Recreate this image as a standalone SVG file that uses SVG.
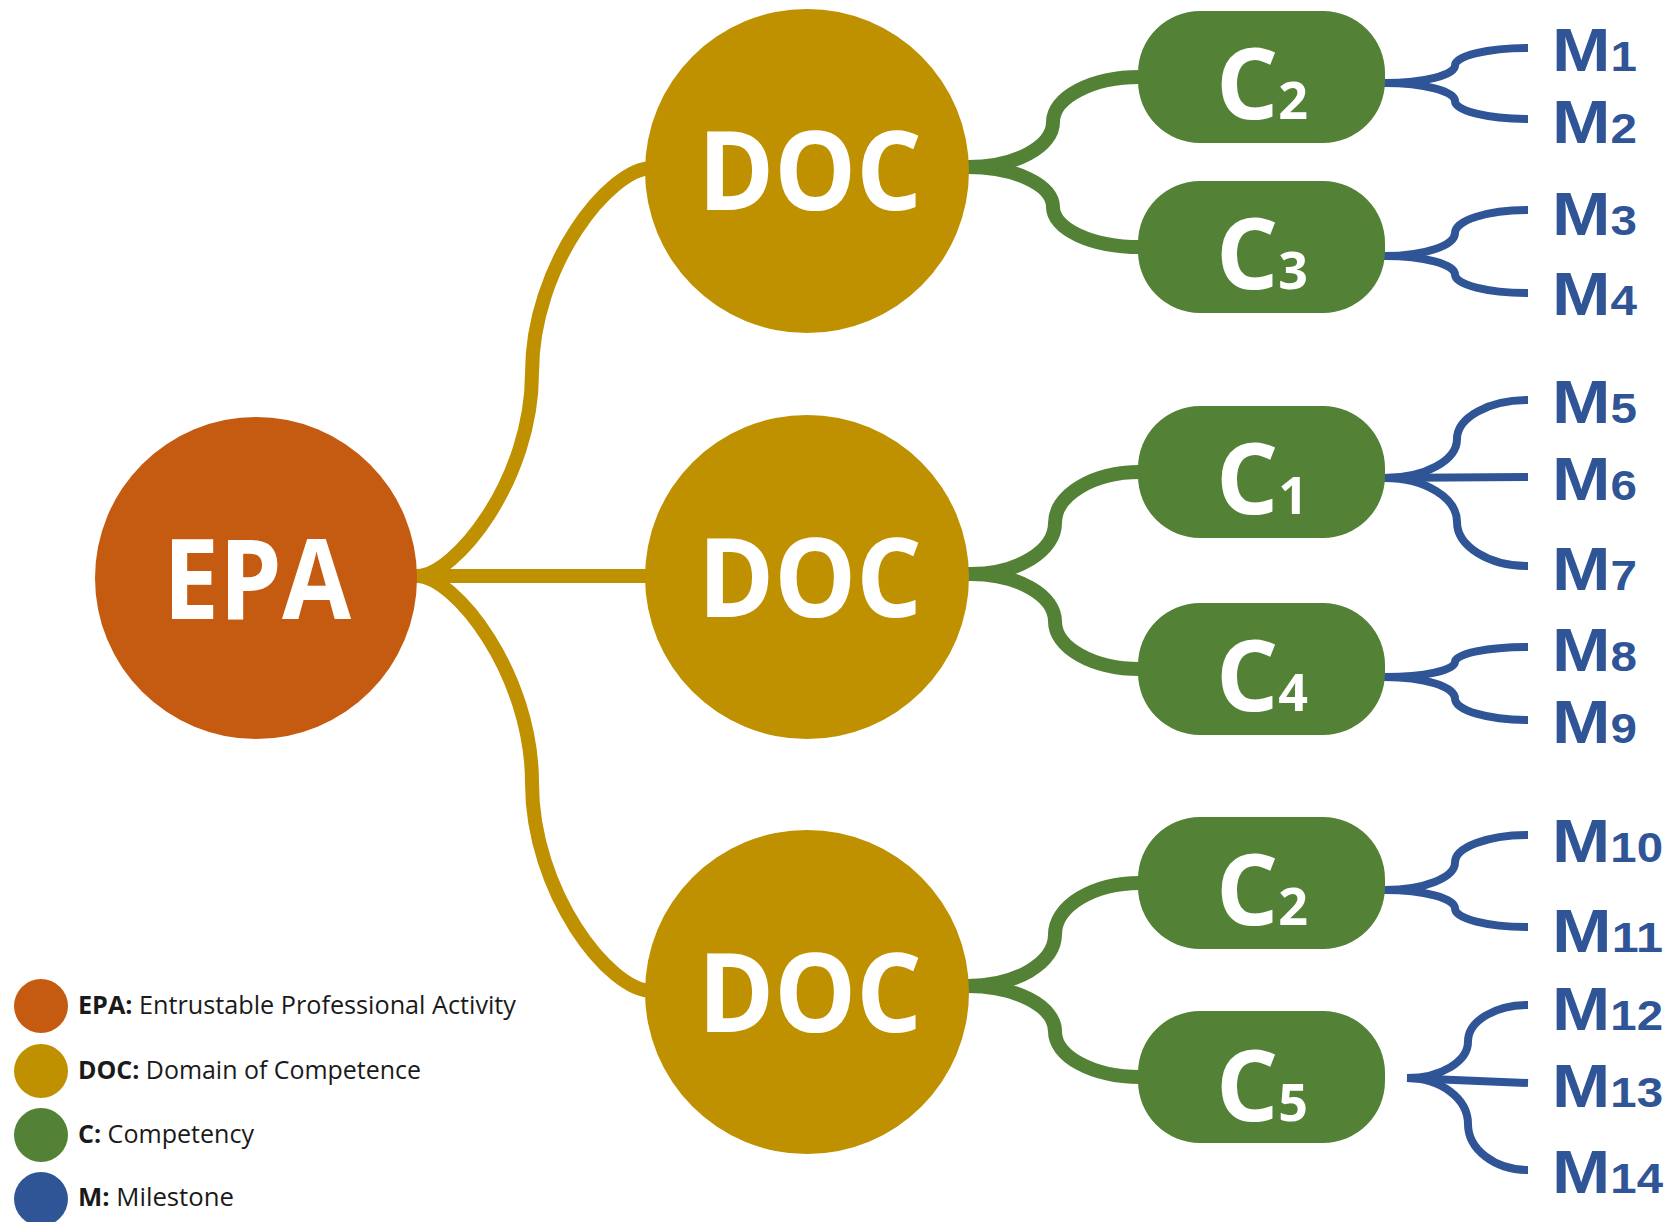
<svg xmlns="http://www.w3.org/2000/svg" width="1680" height="1222" viewBox="0 0 1680 1222">
<style>
  .gold{fill:none;stroke:#BF9000;stroke-width:14}
  .green{fill:none;stroke:#538135;stroke-width:14}
  .blue{fill:none;stroke:#2F5597;stroke-width:8}
  .epa{fill:#C55A11}
  .doc{fill:#BF9000}
  .comp{fill:#538135}
  .ms{fill:#2F5597}
  .big{font-family:'Open Sans','Liberation Sans',sans-serif;font-weight:700;fill:#FFFFFF;text-anchor:middle}
  .clab{font-family:'Open Sans','Liberation Sans',sans-serif;font-weight:700;fill:#FFFFFF;text-anchor:middle;font-size:98px}
  .clab .sub{font-size:52px}
  .mlab{font-family:'Liberation Sans',Arial,sans-serif;font-weight:700;fill:#2F5597;font-size:62px}
  .mlab .sub{font-size:42px}
  .leg{font-family:'Open Sans','Liberation Sans',sans-serif;font-size:25px;fill:#1a1a1a}
  .leg .b{font-weight:700}
</style>
<rect x="0" y="0" width="1680" height="1222" fill="#FFFFFF"/>
<g id="connectors">
  <path class="gold" d="M 405 576 L 417 576 C 455 576, 532 480, 532 373 C 532 266, 609 168, 652 168"/>
  <path class="gold" d="M 405 576 L 652 576"/>
  <path class="gold" d="M 405 576 L 417 576 C 455 576, 532 674, 532 783 C 532 892, 609 991, 652 991"/>

  <path class="green" d="M 955 167 L 968 167 A 85 45 0 0 0 1053 122 A 87 45 0 0 1 1140 77 L 1150 77"/>
  <path class="green" d="M 955 167 L 968 167 A 85 40 0 0 1 1053 207 A 87 40 0 0 0 1140 247 L 1150 247"/>
  <path class="green" d="M 955 574 L 971 574 A 84 51 0 0 0 1055 523 A 85 51 0 0 1 1140 472 L 1150 472"/>
  <path class="green" d="M 955 574 L 971 574 A 84 47.5 0 0 1 1055 621.5 A 85 47.5 0 0 0 1140 669 L 1150 669"/>
  <path class="green" d="M 955 986 L 968 986 A 87 51.5 0 0 0 1055 934.5 A 85 51.5 0 0 1 1140 883 L 1150 883"/>
  <path class="green" d="M 955 986 L 968 986 A 87 45.5 0 0 1 1055 1031.5 A 85 45.5 0 0 0 1140 1077 L 1150 1077"/>

  <path class="blue" d="M 1375 83 L 1385 83 A 70 17.5 0 0 0 1455 65.5 A 73 17.5 0 0 1 1528 48"/>
  <path class="blue" d="M 1375 83 L 1385 83 A 70 18 0 0 1 1455 101 A 73 18 0 0 0 1528 119"/>
  <path class="blue" d="M 1375 256 L 1385 256 A 70 23 0 0 0 1455 233 A 73 23 0 0 1 1528 210"/>
  <path class="blue" d="M 1375 256 L 1385 256 A 70 18.5 0 0 1 1455 274.5 A 73 18.5 0 0 0 1528 293"/>
  <path class="blue" d="M 1375 478 L 1385 478 A 72 39 0 0 0 1457 439 A 71 39 0 0 1 1528 400"/>
  <path class="blue" d="M 1375 478 L 1528 477"/>
  <path class="blue" d="M 1375 478 L 1385 478 A 72 44 0 0 1 1457 522 A 71 44 0 0 0 1528 566"/>
  <path class="blue" d="M 1375 677 L 1385 677 A 70 15 0 0 0 1455 662 A 73 15 0 0 1 1528 647"/>
  <path class="blue" d="M 1375 677 L 1385 677 A 70 21.5 0 0 1 1455 698.5 A 73 21.5 0 0 0 1528 720"/>
  <path class="blue" d="M 1375 890 L 1385 890 A 70 27.5 0 0 0 1455 862.5 A 73 27.5 0 0 1 1528 835"/>
  <path class="blue" d="M 1375 890 L 1385 890 A 70 18.5 0 0 1 1455 908.5 A 73 18.5 0 0 0 1528 927"/>
  <path class="blue" d="M 1407 1078 A 61 36.5 0 0 0 1468 1041.5 A 60 36.5 0 0 1 1528 1005"/>
  <path class="blue" d="M 1407 1078 L 1528 1083"/>
  <path class="blue" d="M 1407 1078 A 61 46 0 0 1 1468 1124 A 60 46 0 0 0 1528 1170"/>
</g>

<g id="epa">
  <circle class="epa" cx="256" cy="578" r="161"/>
  <text class="big" x="257" y="619" font-size="112" textLength="188" lengthAdjust="spacingAndGlyphs">EPA</text>
</g>
<g id="doc1">
  <circle class="doc" cx="807" cy="171" r="162"/>
  <text class="big" x="810" y="210" font-size="110" textLength="224" lengthAdjust="spacingAndGlyphs">DOC</text>
</g>
<g id="doc2">
  <circle class="doc" cx="807" cy="577" r="162"/>
  <text class="big" x="810" y="617" font-size="110" textLength="224" lengthAdjust="spacingAndGlyphs">DOC</text>
</g>
<g id="doc3">
  <circle class="doc" cx="807" cy="992" r="162"/>
  <text class="big" x="810" y="1032" font-size="110" textLength="224" lengthAdjust="spacingAndGlyphs">DOC</text>
</g>

<g id="c2a">
  <rect class="comp" x="1138" y="11" width="247" height="132" rx="62" ry="62"/>
  <text class="clab" x="1262" y="119">C<tspan class="sub">2</tspan></text>
</g>
<g id="c3">
  <rect class="comp" x="1138" y="181" width="247" height="132" rx="62" ry="62"/>
  <text class="clab" x="1262" y="289">C<tspan class="sub">3</tspan></text>
</g>
<g id="c1">
  <rect class="comp" x="1138" y="406" width="247" height="132" rx="62" ry="62"/>
  <text class="clab" x="1262" y="514">C<tspan class="sub">1</tspan></text>
</g>
<g id="c4">
  <rect class="comp" x="1138" y="603" width="247" height="132" rx="62" ry="62"/>
  <text class="clab" x="1262" y="711">C<tspan class="sub">4</tspan></text>
</g>
<g id="c2b">
  <rect class="comp" x="1138" y="817" width="247" height="132" rx="62" ry="62"/>
  <text class="clab" x="1262" y="925">C<tspan class="sub">2</tspan></text>
</g>
<g id="c5">
  <rect class="comp" x="1138" y="1011" width="247" height="132" rx="62" ry="62"/>
  <text class="clab" x="1262" y="1121">C<tspan class="sub">5</tspan></text>
</g>

<g id="m1"><text class="mlab" x="1552" y="71" textLength="85" lengthAdjust="spacingAndGlyphs">M<tspan class="sub">1</tspan></text></g>
<g id="m2"><text class="mlab" x="1552" y="143" textLength="85" lengthAdjust="spacingAndGlyphs">M<tspan class="sub">2</tspan></text></g>
<g id="m3"><text class="mlab" x="1552" y="235" textLength="85" lengthAdjust="spacingAndGlyphs">M<tspan class="sub">3</tspan></text></g>
<g id="m4"><text class="mlab" x="1552" y="315" textLength="85" lengthAdjust="spacingAndGlyphs">M<tspan class="sub">4</tspan></text></g>
<g id="m5"><text class="mlab" x="1552" y="423" textLength="85" lengthAdjust="spacingAndGlyphs">M<tspan class="sub">5</tspan></text></g>
<g id="m6"><text class="mlab" x="1552" y="500" textLength="85" lengthAdjust="spacingAndGlyphs">M<tspan class="sub">6</tspan></text></g>
<g id="m7"><text class="mlab" x="1552" y="590" textLength="85" lengthAdjust="spacingAndGlyphs">M<tspan class="sub">7</tspan></text></g>
<g id="m8"><text class="mlab" x="1552" y="671" textLength="85" lengthAdjust="spacingAndGlyphs">M<tspan class="sub">8</tspan></text></g>
<g id="m9"><text class="mlab" x="1552" y="743" textLength="85" lengthAdjust="spacingAndGlyphs">M<tspan class="sub">9</tspan></text></g>
<g id="m10"><text class="mlab" x="1552" y="862" textLength="111" lengthAdjust="spacingAndGlyphs">M<tspan class="sub">10</tspan></text></g>
<g id="m11"><text class="mlab" x="1552" y="952" textLength="111" lengthAdjust="spacingAndGlyphs">M<tspan class="sub">11</tspan></text></g>
<g id="m12"><text class="mlab" x="1552" y="1030" textLength="111" lengthAdjust="spacingAndGlyphs">M<tspan class="sub">12</tspan></text></g>
<g id="m13"><text class="mlab" x="1552" y="1107" textLength="111" lengthAdjust="spacingAndGlyphs">M<tspan class="sub">13</tspan></text></g>
<g id="m14"><text class="mlab" x="1552" y="1193" textLength="111" lengthAdjust="spacingAndGlyphs">M<tspan class="sub">14</tspan></text></g>

<g id="legend">
  <circle class="epa" cx="41" cy="1006" r="27"/>
  <text class="leg" x="78" y="1014" textLength="438" lengthAdjust="spacingAndGlyphs"><tspan class="b">EPA:</tspan> Entrustable Professional Activity</text>
  <circle class="doc" cx="41" cy="1071" r="27"/>
  <text class="leg" x="78" y="1079" textLength="343" lengthAdjust="spacingAndGlyphs"><tspan class="b">DOC:</tspan> Domain of Competence</text>
  <circle class="comp" cx="41" cy="1135" r="27"/>
  <text class="leg" x="78" y="1143" textLength="176" lengthAdjust="spacingAndGlyphs"><tspan class="b">C:</tspan> Competency</text>
  <circle class="ms" cx="41" cy="1199" r="27"/>
  <text class="leg" x="78" y="1206" textLength="156" lengthAdjust="spacingAndGlyphs"><tspan class="b">M:</tspan> Milestone</text>
</g>
</svg>
